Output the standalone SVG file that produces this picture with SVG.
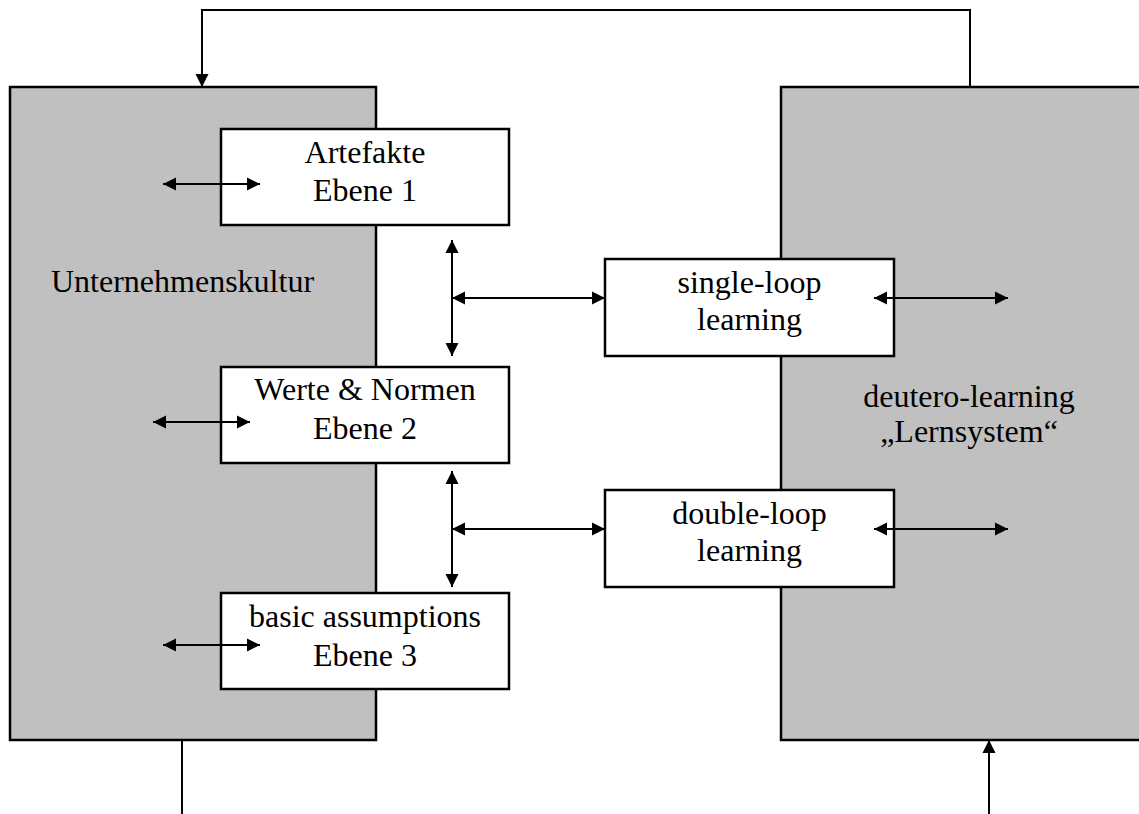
<svg xmlns="http://www.w3.org/2000/svg" width="1139" height="814" viewBox="0 0 1139 814">
  <style>
    .panel { fill: #c0c0c0; stroke: #000; stroke-width: 2.5; }
    .box { fill: #fff; stroke: #000; stroke-width: 2.5; }
    .lbl { font-family: "Liberation Serif", "Times New Roman", serif; font-size: 32px; fill: #000; text-anchor: middle; }
    .conn { fill: none; stroke: #000; stroke-width: 2; }
    .both { marker-start: url(#head); marker-end: url(#head); }
    .end { marker-end: url(#head); }
  </style>
  <defs>
    <marker id="head" markerUnits="userSpaceOnUse" markerWidth="14" markerHeight="14" viewBox="0 0 14 14" refX="13" refY="7" orient="auto-start-reverse">
      <path d="M0,0.5 L13,7 L0,13.5 Z" fill="#000"/>
    </marker>
  </defs>

  <!-- culture panel -->
  <g id="unternehmenskultur">
    <rect class="panel" x="10" y="87" width="366" height="653"/>
    <text class="lbl" x="51" y="292" style="text-anchor:start">Unternehmenskultur</text>
  </g>

  <!-- learning system panel -->
  <g id="deutero-learning">
    <rect class="panel" x="781" y="87" width="370" height="653"/>
    <text class="lbl" x="969" y="407">deutero-learning</text>
    <text class="lbl" x="969" y="442">„Lernsystem“</text>
  </g>

  <!-- culture levels -->
  <g id="artefakte">
    <rect class="box" x="221" y="129" width="288" height="96"/>
    <text class="lbl" x="365" y="163">Artefakte</text>
    <text class="lbl" x="365" y="201">Ebene 1</text>
  </g>
  <g id="werte-normen">
    <rect class="box" x="221" y="367" width="288" height="96"/>
    <text class="lbl" x="365" y="400">Werte &amp; Normen</text>
    <text class="lbl" x="365" y="439">Ebene 2</text>
  </g>
  <g id="basic-assumptions">
    <rect class="box" x="221" y="593" width="288" height="96"/>
    <text class="lbl" x="365" y="627">basic assumptions</text>
    <text class="lbl" x="365" y="666">Ebene 3</text>
  </g>

  <!-- learning modes -->
  <g id="single-loop">
    <rect class="box" x="605" y="259" width="289" height="97"/>
    <text class="lbl" x="749.5" y="293">single-loop</text>
    <text class="lbl" x="749.5" y="330">learning</text>
  </g>
  <g id="double-loop">
    <rect class="box" x="605" y="490" width="289" height="97"/>
    <text class="lbl" x="749.5" y="524">double-loop</text>
    <text class="lbl" x="749.5" y="561">learning</text>
  </g>

  <!-- connectors -->
  <g id="connectors">
    <!-- feedback loop over the top -->
    <path class="conn end" d="M970,87 V10 H202 V87"/>
    <!-- open ends at the bottom -->
    <path class="conn" d="M182,740 V814"/>
    <path class="conn end" d="M989,814 V740"/>

    <!-- links inside the culture panel -->
    <line class="conn both" x1="163" y1="184" x2="260" y2="184"/>
    <line class="conn both" x1="153" y1="422" x2="250" y2="422"/>
    <line class="conn both" x1="163" y1="645" x2="260" y2="645"/>

    <!-- level to level -->
    <line class="conn both" x1="452" y1="240" x2="452" y2="356"/>
    <line class="conn both" x1="452" y1="471" x2="452" y2="587"/>

    <!-- levels to learning modes -->
    <line class="conn both" x1="452" y1="298" x2="605" y2="298"/>
    <line class="conn both" x1="452" y1="529" x2="605" y2="529"/>

    <!-- learning modes to learning system -->
    <line class="conn both" x1="874" y1="298" x2="1008" y2="298"/>
    <line class="conn both" x1="874" y1="529" x2="1008" y2="529"/>
  </g>
</svg>
